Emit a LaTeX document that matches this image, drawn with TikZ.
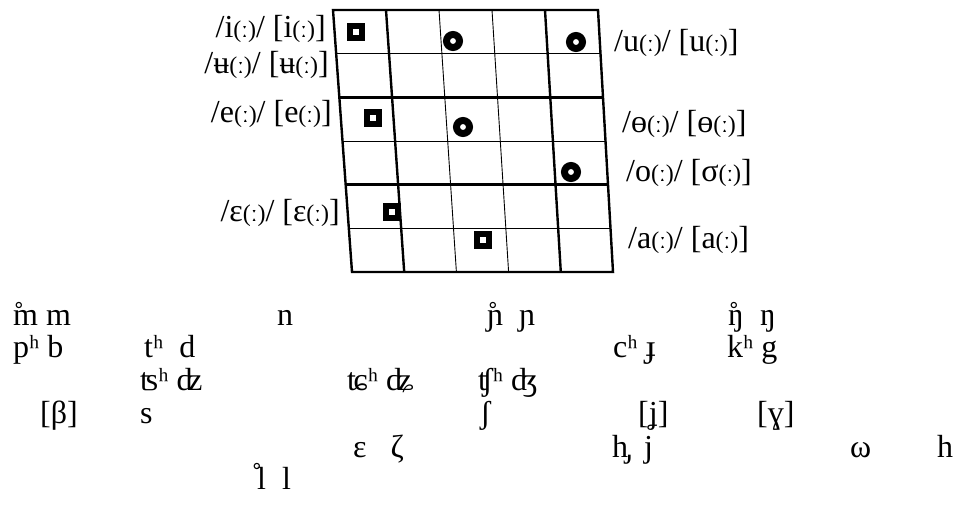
\documentclass[tikz,border=0pt]{standalone}
\usepackage{fontspec}
\setmainfont{Liberation Serif}
\usetikzlibrary{calc}
\newcommand{\ipasize}{\fontsize{32}{34}\selectfont}
\newcommand{\lng}{{\fontsize{24}{24}\selectfont(ː)}}
\newcommand{\vless}[1]{\rlap{\kern0.5pt˚}#1}
\newcommand{\vlessl}[1]{\rlap{\kern-5.5pt\raisebox{3pt}{˚}}#1}
\begin{document}
\begin{tikzpicture}[x=1pt,y=-1pt,every node/.style={font=\ipasize,inner sep=0pt},
  thinrule/.style={line width=0.9pt},
  thickrule/.style={line width=2.4pt},
  sqmark/.style={rectangle,draw=black,fill=white,line width=6pt,minimum size=12pt},
  ringmark/.style={circle,draw=black,fill=white,line width=7pt,minimum size=13pt},
  cns/.style={anchor=base west}]
  \useasboundingbox (0,0) rectangle (953,522);
  \coordinate (tl) at (333,10);
  \coordinate (tr) at (598,10);
  \coordinate (bl) at (352,272);
  \coordinate (br) at (613,272);
  \foreach \v in {1,3,5} \draw[thinrule] ($(tl)!{\v/6}!(bl)$) -- ($(tr)!{\v/6}!(br)$);
  \foreach \v in {2,4} \draw[thickrule] ($(tl)!{\v/6}!(bl)$) -- ($(tr)!{\v/6}!(br)$);
  \foreach \u in {2,3} \draw[thinrule] ($(tl)!{\u/5}!(tr)$) -- ($(bl)!{\u/5}!(br)$);
  \foreach \u in {1,4} \draw[thickrule] ($(tl)!{\u/5}!(tr)$) -- ($(bl)!{\u/5}!(br)$);
  \draw[thickrule,line join=miter] (tl) -- (tr) -- (br) -- (bl) -- cycle;
  \node[sqmark] (sqi) at (356,32) {};
  \node[sqmark] (sqe) at (373,118) {};
  \node[sqmark] (sqE) at (392,212) {};
  \node[sqmark] (sqa) at (483,240) {};
  \node[ringmark] (rgi) at (453,41) {};
  \node[ringmark] (rgu) at (576,42) {};
  \node[ringmark] (rge) at (463,127) {};
  \node[ringmark] (rgo) at (571,172) {};
  \node[anchor=east] (li) at (326,29) {/i\lng/ [i\lng]};
  \node[anchor=east] (lu) at (329,65) {/ʉ\lng/ [ʉ\lng]};
  \node[anchor=east] (le) at (332,114) {/e\lng/ [e\lng]};
  \node[anchor=east] (lE) at (340,213) {/ɛ\lng/ [ɛ\lng]};
  \node[anchor=west] (ru) at (614,43) {/u\lng/ [u\lng]};
  \node[anchor=west] (ro) at (622,124) {/ɵ\lng/ [ɵ\lng]};
  \node[anchor=west] (rO) at (626,173) {/o\lng/ [σ\lng]};
  \node[anchor=west] (ra) at (628,240) {/a\lng/ [a\lng]};
  \node[cns] (nm) at (13,325) {\vless{m} m};
  \node[cns] (nn) at (277,325) {n};
  \node[cns] (nj) at (487,325) {\vless{ɲ}~~ɲ};
  \node[cns] (ng) at (728,325) {\vless{ŋ}~~ŋ};
  \node[cns] (pb) at (13,357) {pʰ b};
  \node[cns] (td) at (144,357) {tʰ~~d};
  \node[cns] (cj) at (613,357) {cʰ~ɟ};
  \node[cns] (kg) at (727,357) {kʰ g};
  \node[cns] (tsdz) at (140,390) {ʦʰ ʣ};
  \node[cns] (tcdz) at (347,390) {ʨʰ~ʥ};
  \node[cns] (tsh) at (478,390) {ʧʰ~ʤ};
  \node[cns] (fb) at (40,423) {[β]};
  \node[cns] (fs) at (140,423) {s};
  \node[cns] (fsh) at (480,423) {ʃ};
  \node[cns] (fj) at (638,423) {[ʝ]};
  \node[cns] (fg) at (757,423) {[ɣ]};
  \node[cns] (ez) at (353,457) {ɛ~~~ζ};
  \node[cns] (hj) at (612,457) {h̡~~j};
  \node[cns] (aw) at (850,457) {ω};
  \node[cns] (ah) at (937,457) {h};
  \node[cns] (ll) at (257,489) {\vlessl{l}~~l};
\end{tikzpicture}
\end{document}
